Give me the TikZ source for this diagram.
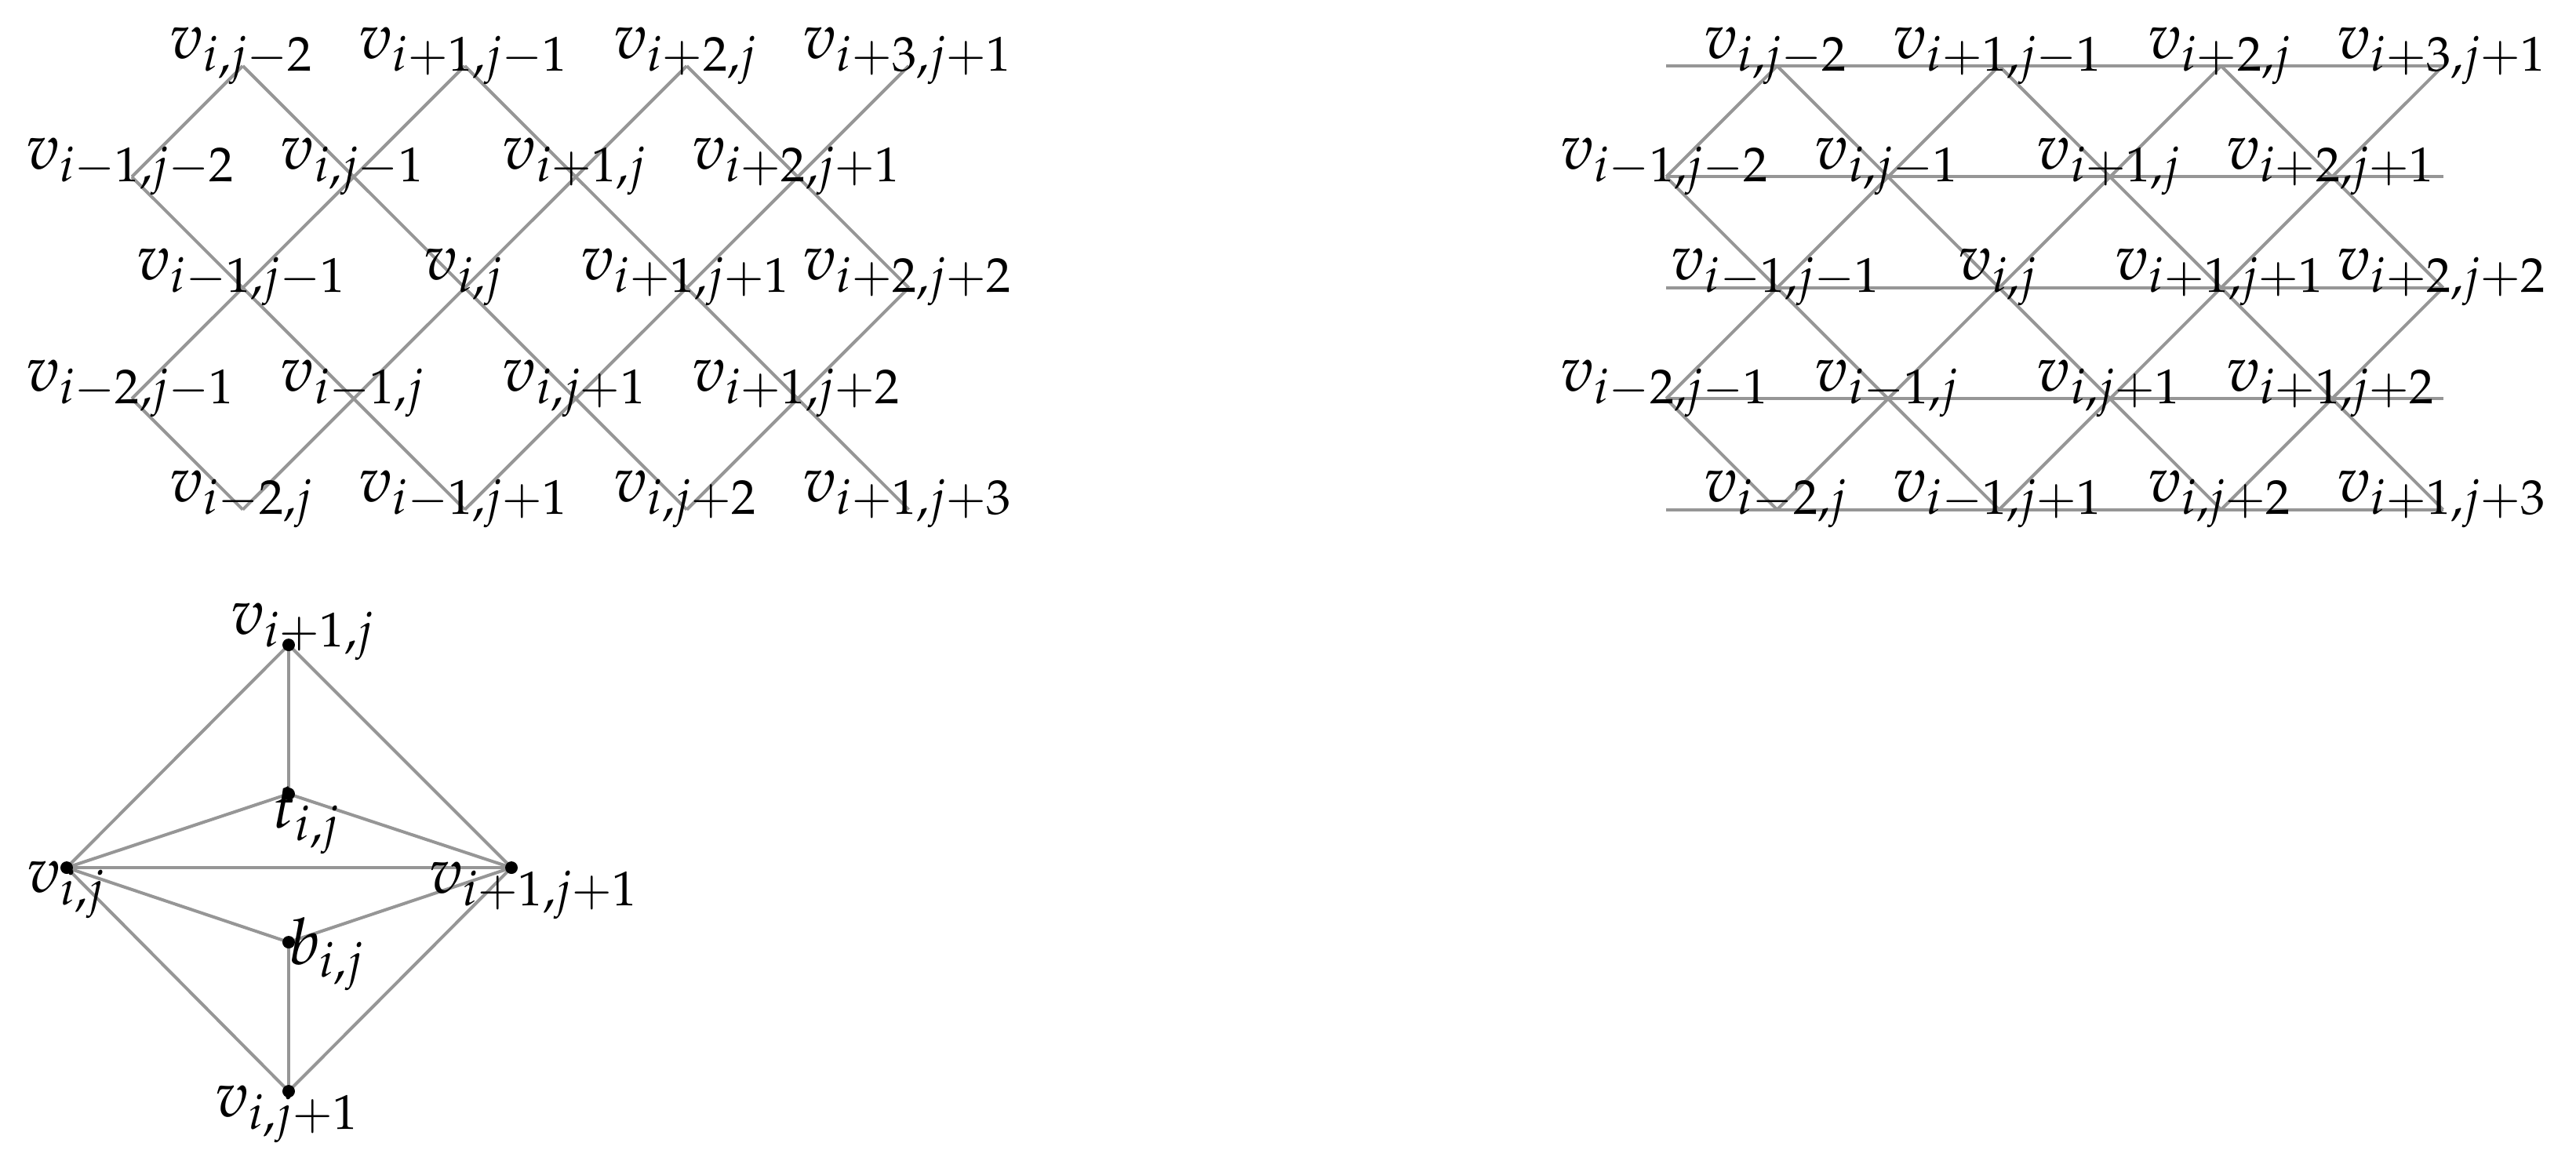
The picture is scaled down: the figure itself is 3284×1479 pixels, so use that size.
\documentclass[tikz,border=0pt]{standalone}
\usepackage{mathpazo}
\definecolor{lgray}{RGB}{150,150,150}
\tikzset{
  edge/.style={draw=lgray, line width=0.4pt},
  lab/.style={inner sep=0pt, font=\fontsize{8.2}{10}\selectfont},
  gridlab/.style={lab, anchor=base, yshift=1.0pt},
  dotnode/.style={circle, fill=black, inner sep=0pt, minimum size=1.6pt},
}
\begin{document}
\begin{tikzpicture}[x=0.1pt,y=-0.1pt]
\useasboundingbox (0,0) rectangle (3284,1479);
% grid coordinates for both lattices
\foreach \k in {0,...,7}{
  \foreach \m in {0,...,4}{
    \coordinate (A\k-\m) at ({168+141.5*\k},{84+141.4*\m});
    \coordinate (B\k-\m) at ({2124+141.5*\k},{84+141.4*\m});
  }
}
% horizontal lines (right lattice only)
\foreach \m in {0,...,4}{
  \draw[edge] (B0-\m) -- (B7-\m);
}
% diagonal lines in both lattices
\foreach \P in {A,B}{
  \draw[edge] (\P1-0) -- (\P5-4);
  \draw[edge] (\P3-0) -- (\P7-4);
  \draw[edge] (\P5-0) -- (\P7-2);
  \draw[edge] (\P0-1) -- (\P3-4);
  \draw[edge] (\P0-3) -- (\P1-4);
  \draw[edge] (\P1-0) -- (\P0-1);
  \draw[edge] (\P3-0) -- (\P0-3);
  \draw[edge] (\P5-0) -- (\P1-4);
  \draw[edge] (\P7-0) -- (\P3-4);
  \draw[edge] (\P7-2) -- (\P5-4);
}
% labels of both lattices
\foreach \P in {A,B}{
  \foreach \k/\m/\s in {1/0/{i,j-2},3/0/{i+1,j-1},5/0/{i+2,j},7/0/{i+3,j+1},
                        0/1/{i-1,j-2},2/1/{i,j-1},4/1/{i+1,j},6/1/{i+2,j+1},
                        1/2/{i-1,j-1},3/2/{i,j},5/2/{i+1,j+1},7/2/{i+2,j+2},
                        0/3/{i-2,j-1},2/3/{i-1,j},4/3/{i,j+1},6/3/{i+1,j+2},
                        1/4/{i-2,j},3/4/{i-1,j+1},5/4/{i,j+2},7/4/{i+1,j+3}}{
    \node[gridlab] (\P lab\k-\m) at (\P\k-\m) {$v_{\s}$};
  }
}
% bottom figure
\coordinate (vt) at (368,822);
\coordinate (tt) at (368,1012);
\coordinate (vl) at (85,1106);
\coordinate (vr) at (652,1106);
\coordinate (bb) at (368,1201);
\coordinate (vb) at (368,1391);
\draw[edge] (vt) -- (vl);
\draw[edge] (vt) -- (vr);
\draw[edge] (vt) -- (tt);
\draw[edge] (tt) -- (vl);
\draw[edge] (tt) -- (vr);
\draw[edge] (vl) -- (vr);
\draw[edge] (vl) -- (bb);
\draw[edge] (vr) -- (bb);
\draw[edge] (bb) -- (vb);
\draw[edge] (vl) -- (vb);
\draw[edge] (vr) -- (vb);
\foreach \c in {vt,tt,vl,vr,bb,vb}{
  \node[dotnode] (d\c) at (\c) {};
}
\node[lab, anchor=base west] (lvt) at (292,808) {$v_{i+1,j}$};
\node[lab, anchor=base west] (ltt) at (345,1055) {$t_{i,j}$};
\node[lab, anchor=base west] (lvl) at (32,1137) {$v_{i,j}$};
\node[lab, anchor=base west] (lvr) at (545,1138) {$v_{i+1,j+1}$};
\node[lab, anchor=base west] (lbb) at (366,1229) {$b_{i,j}$};
\node[lab, anchor=base west] (lvb) at (272,1423) {$v_{i,j+1}$};
\end{tikzpicture}
\end{document}
